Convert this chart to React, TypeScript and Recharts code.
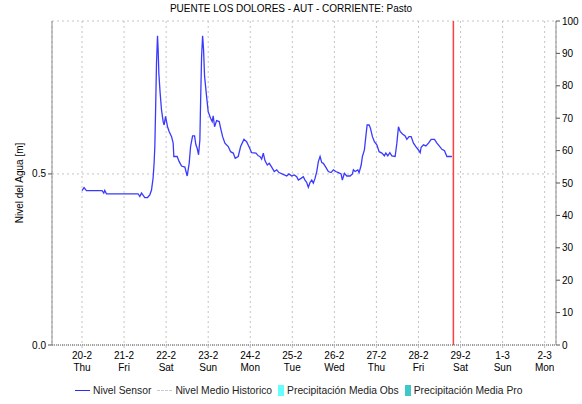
import React from "react";
import { LineChart, Line, XAxis, YAxis, CartesianGrid, ReferenceLine } from "recharts";

const FONT = "'Liberation Sans', Arial, sans-serif";

// day index 0 = 20-2
const DAY_LABELS = ["20-2", "21-2", "22-2", "23-2", "24-2", "25-2", "26-2", "27-2", "28-2", "29-2", "1-3", "2-3"];
const WEEKDAYS = ["Thu", "Fri", "Sat", "Sun", "Mon", "Tue", "Wed", "Thu", "Fri", "Sat", "Sun", "Mon"];
const DAY_TICKS = DAY_LABELS.map((_, i) => i);

// Nivel Sensor: time (days since 20-2 00:00) and level [m]
const SENSOR_T = [
  0.0, 0.048, 0.105, 0.476, 0.517, 0.54, 0.581, 1.333, 1.374, 1.414, 1.493, 1.557, 1.612, 1.652, 1.69, 1.714,
  1.731, 1.748, 1.771, 1.795, 1.81, 1.826, 1.857, 1.89, 1.929, 1.952, 1.986, 2.01, 2.033, 2.071, 2.129, 2.167,
  2.183, 2.262, 2.31, 2.367, 2.445, 2.5, 2.548, 2.581, 2.629, 2.676, 2.707, 2.738, 2.771, 2.802, 2.819, 2.843,
  2.867, 2.89, 2.914, 2.962, 3.0, 3.057, 3.095, 3.119, 3.152, 3.2, 3.262, 3.295, 3.343, 3.398, 3.476, 3.533,
  3.595, 3.643, 3.714, 3.771, 3.85, 3.914, 3.976, 4.033, 4.136, 4.19, 4.231, 4.271, 4.31, 4.35, 4.405, 4.452,
  4.51, 4.571, 4.629, 4.683, 4.81, 4.867, 4.921, 4.986, 5.048, 5.105, 5.143, 5.207, 5.262, 5.302, 5.343, 5.381,
  5.421, 5.462, 5.5, 5.54, 5.581, 5.619, 5.66, 5.7, 5.738, 5.795, 5.857, 5.921, 5.976, 6.033, 6.095, 6.16,
  6.19, 6.238, 6.295, 6.374, 6.429, 6.452, 6.493, 6.557, 6.588, 6.638, 6.667, 6.714, 6.748, 6.779, 6.826, 6.857,
  6.905, 6.952, 7.01, 7.064, 7.129, 7.19, 7.224, 7.271, 7.319, 7.367, 7.445, 7.486, 7.524, 7.564, 7.619, 7.683,
  7.724, 7.776, 7.826, 7.881, 7.938, 8.0, 8.04, 8.064, 8.119, 8.176, 8.238, 8.302, 8.381, 8.438, 8.493, 8.557,
  8.619, 8.676, 8.795,
];
const SENSOR_LEVEL = [
  0.451, 0.46, 0.451, 0.451, 0.444, 0.452, 0.442, 0.442, 0.434, 0.444, 0.431, 0.431, 0.439, 0.453, 0.488, 0.532,
  0.58, 0.678, 0.825, 0.904, 0.863, 0.795, 0.737, 0.687, 0.653, 0.643, 0.668, 0.653, 0.638, 0.624, 0.609, 0.59,
  0.551, 0.551, 0.536, 0.523, 0.52, 0.494, 0.531, 0.58, 0.611, 0.611, 0.585, 0.575, 0.556, 0.599, 0.708, 0.843,
  0.904, 0.863, 0.785, 0.726, 0.682, 0.663, 0.653, 0.67, 0.638, 0.656, 0.653, 0.634, 0.609, 0.59, 0.58, 0.565,
  0.561, 0.546, 0.551, 0.58, 0.601, 0.594, 0.578, 0.562, 0.561, 0.553, 0.551, 0.543, 0.561, 0.539, 0.526, 0.531,
  0.52, 0.507, 0.512, 0.504, 0.497, 0.494, 0.5, 0.494, 0.497, 0.492, 0.482, 0.487, 0.492, 0.482, 0.475, 0.461,
  0.475, 0.482, 0.473, 0.487, 0.507, 0.536, 0.551, 0.533, 0.531, 0.52, 0.507, 0.504, 0.512, 0.507, 0.504, 0.5,
  0.482, 0.502, 0.494, 0.494, 0.5, 0.512, 0.507, 0.512, 0.504, 0.526, 0.551, 0.57, 0.609, 0.643, 0.643, 0.634,
  0.609, 0.594, 0.585, 0.565, 0.561, 0.553, 0.561, 0.553, 0.562, 0.553, 0.551, 0.59, 0.638, 0.624, 0.617, 0.611,
  0.601, 0.609, 0.609, 0.59, 0.58, 0.57, 0.562, 0.578, 0.585, 0.582, 0.59, 0.601, 0.601, 0.59, 0.582, 0.572,
  0.568, 0.551, 0.551,
];

const NOW_T = 8.83;
const X_DOMAIN = [-0.714, 11.27];
const LEVEL_DOMAIN = [0, 0.947];
const LEVEL_TICKS = [0, 0.5];
const PRECIP_DOMAIN = [0, 100];
const PRECIP_TICKS = [0, 10, 20, 30, 40, 50, 60, 70, 80, 90, 100];

const data = SENSOR_T.map((t, i) => ({ t, nivel: SENSOR_LEVEL[i] }));

const TICK = { fill: "#000", fontSize: 10, fontFamily: FONT };
const AXIS_GRAY = "#8c8c8c";

function DayTick({ x, y, payload }: any) {
  const i = payload.value;
  return (
    <g>
      <text x={x} y={y + 9} textAnchor="middle" fontSize={10} fontFamily={FONT} fill="#000">{DAY_LABELS[i]}</text>
      <text x={x} y={y + 21} textAnchor="middle" fontSize={10} fontFamily={FONT} fill="#000">{WEEKDAYS[i]}</text>
    </g>
  );
}

function LegendItem({ icon, label }: { icon: React.ReactNode; label: string }) {
  return (
    <div style={{ display: "flex", alignItems: "center", marginRight: 6 }}>
      {icon}
      <span style={{ marginLeft: 3 }}>{label}</span>
    </div>
  );
}

export default function App() {
  return (
    <div style={{ position: "absolute", left: 0, top: 0, width: 582, height: 404, background: "#fff", fontFamily: FONT }}>
      <div style={{ position: "absolute", top: 3, left: 0, width: 582, textAlign: "center", fontSize: 10, color: "#000" }}>
        PUENTE LOS DOLORES - AUT - CORRIENTE: Pasto
      </div>
      <LineChart width={582} height={404} data={data} margin={{ top: 21, right: 0, bottom: 29, left: 0 }}>
        <CartesianGrid yAxisId="level" stroke="#c4c4c4" strokeDasharray="2 3" />
        <XAxis
          xAxisId="top" orientation="top" type="number" dataKey="t" domain={X_DOMAIN} allowDataOverflow
          height={0} tick={false} tickLine={false} axisLine={{ stroke: AXIS_GRAY }}
        />
        <XAxis
          type="number" dataKey="t" domain={X_DOMAIN} ticks={DAY_TICKS} allowDataOverflow interval={0}
          height={30} tick={<DayTick />} tickSize={3} tickLine={{ stroke: "#bbb" }}
          axisLine={{ stroke: "#555", strokeDasharray: "1 1" }}
        />
        <YAxis
          yAxisId="level" domain={LEVEL_DOMAIN} ticks={LEVEL_TICKS} allowDataOverflow width={52}
          tick={TICK} tickSize={4} tickLine={{ stroke: "#555" }} axisLine={{ stroke: AXIS_GRAY }}
          tickFormatter={(v: number) => v.toFixed(1)}
          label={{
            content: () => (
              <text x={23} y={183} transform="rotate(-90 23 183)" textAnchor="middle" fontSize={10} fontFamily={FONT} fill="#000">
                Nivel del Agua [m]
              </text>
            ),
          }}
        />
        <YAxis
          yAxisId="precip" orientation="right" type="number" domain={PRECIP_DOMAIN} ticks={PRECIP_TICKS}
          allowDataOverflow interval={0} width={26}
          tick={TICK} tickSize={4} tickLine={{ stroke: "#555" }} axisLine={{ stroke: AXIS_GRAY }}
        />
        <ReferenceLine yAxisId="level" x={NOW_T} stroke="#ff4040" strokeOpacity={1} strokeWidth={1.5} />
        <Line
          yAxisId="level" type="linear" dataKey="nivel" name="Nivel Sensor" stroke="#3a3aff" strokeWidth={1.3}
          dot={false} isAnimationActive={false}
        />
        <Line
          yAxisId="precip" type="linear" dataKey="precipitacion" name="Precipitación" stroke="none"
          dot={false} legendType="none" isAnimationActive={false}
        />
      </LineChart>
      <div style={{ position: "absolute", top: 385, left: 75, display: "flex", alignItems: "center", fontSize: 10.3, color: "#222", whiteSpace: "nowrap" }}>
        <LegendItem icon={<div style={{ width: 15, height: 0, borderTop: "1.5px solid #2a2aff" }} />} label="Nivel Sensor" />
        <LegendItem icon={<div style={{ width: 15, height: 0, borderTop: "1.5px dashed #c8c8c8" }} />} label="Nivel Medio Historico" />
        <LegendItem icon={<div style={{ width: 6, height: 11, background: "#66ffff" }} />} label="Precipitación Media Obs" />
        <LegendItem icon={<div style={{ width: 6, height: 11, background: "#3fc8c8" }} />} label="Precipitación Media Pro" />
      </div>
    </div>
  );
}
